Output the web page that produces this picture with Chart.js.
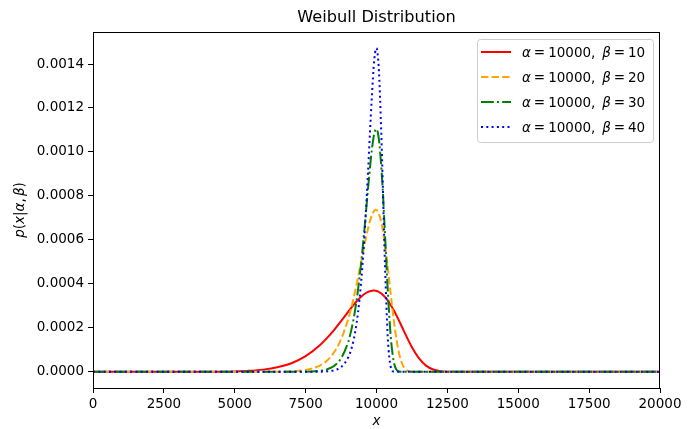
<!DOCTYPE html>
<html>
<head>
<meta charset="utf-8">
<script src="https://cdn.jsdelivr.net/npm/chart.js@4/dist/chart.umd.min.js"></script>
<style>
html,body{margin:0;padding:0;background:#ffffff;}
#wrap{width:697px;height:429px;position:relative;}
</style>
</head>
<body>
<div id="wrap"><canvas id="c" width="697" height="429"></canvas></div>
<script>
// ---- data ----
const chartTitle = 'Weibull Distribution';
const alphaValue = '10000';
const betaLabels = ['10', '20', '30', '40'];

const xValues = [0, 2000, 3000, 4000, 4500, 5000, 5500, 6000, 6500, 7000, 7500, 8000, 8250, 8500, 8750,
  9000, 9100, 9200, 9300, 9400, 9500, 9600, 9700, 9800, 9900, 9950, 10000, 10050, 10100, 10200, 10300,
  10400, 10500, 10600, 10700, 10800, 10900, 11000, 11250, 11500, 11750, 12000, 12250, 12500, 13000, 20000];

const beta10 = [0, 0, 0.00000002, 0.0000003, 0.0000008, 0.000002, 0.0000046, 0.00001, 0.0000204, 0.0000392,
  0.000071, 0.0001205, 0.000153, 0.00019, 0.000231, 0.000273, 0.00029, 0.000306, 0.000321, 0.000334,
  0.000346, 0.000356, 0.000364, 0.000368, 0.00037, 0.000369, 0.000368, 0.000366, 0.000362, 0.000353,
  0.00034, 0.000324, 0.000304, 0.000282, 0.000257, 0.000231, 0.000204, 0.000176, 0.000112, 0.0000616,
  0.0000283, 0.0000106, 0.0000031, 0.0000007, 0, 0];

const beta20 = [0, 0, 0, 0, 0, 0, 0, 0, 0, 0.0000023, 0.0000084, 0.0000285, 0.0000506, 0.0000878, 0.000148,
  0.000239, 0.000286, 0.00034, 0.000399, 0.000462, 0.000527, 0.000592, 0.000651, 0.000699, 0.000729,
  0.000736, 0.000736, 0.000729, 0.000713, 0.000659, 0.000576, 0.000471, 0.000356, 0.000245, 0.000151,
  0.0000816, 0.0000378, 0.0000146, 0.0000005, 0, 0, 0, 0, 0, 0, 0];

const beta30 = [0, 0, 0, 0, 0, 0, 0, 0, 0, 0, 0, 0.0000046, 0.0000113, 0.0000267, 0.0000613,
  0.000135, 0.000184, 0.000246, 0.000327, 0.000427, 0.000547, 0.000685, 0.000831, 0.000968, 0.00107,
  0.001097, 0.001104, 0.001086, 0.00104, 0.000871, 0.000624, 0.000365, 0.000164, 0.000052, 0.0000105,
  0.0000012, 0, 0, 0, 0, 0, 0, 0, 0, 0, 0];

const beta40 = [0, 0, 0, 0, 0, 0, 0, 0, 0, 0, 0, 0.0000007, 0.0000022, 0.0000071, 0.0000218,
  0.0000648, 0.0000987, 0.000149, 0.000223, 0.000329, 0.000476, 0.00067, 0.000907, 0.001165, 0.001385,
  0.001451, 0.001472, 0.001433, 0.00133, 0.000952, 0.000485, 0.000152, 0.0000235, 0.0000013, 0,
  0, 0, 0, 0, 0, 0, 0, 0, 0, 0, 0];

const xTicks = [0, 2500, 5000, 7500, 10000, 12500, 15000, 17500, 20000];
const yTicks = [0, 0.0002, 0.0004, 0.0006, 0.0008, 0.0010, 0.0012, 0.0014];

// ---- styling ----
const FONT = '"DejaVu Sans", sans-serif';
const seriesStyles = [
  {color: '#ff0000', dash: []},
  {color: '#ffa500', dash: [7.4, 3.2]},
  {color: '#008000', dash: [12.8, 3.2, 2, 3.2]},
  {color: '#0000ff', dash: [2, 3.3]}
];
const seriesValues = [beta10, beta20, beta30, beta40];

const datasets = seriesValues.map((vals, i) => ({
  label: 'α=' + alphaValue + ', β=' + betaLabels[i],
  data: xValues.map((x, j) => ({x: x, y: vals[j]})),
  borderColor: seriesStyles[i].color,
  borderDash: seriesStyles[i].dash,
  borderCapStyle: 'butt',
  borderWidth: 2,
  pointRadius: 0,
  fill: false,
  cubicInterpolationMode: 'monotone',
  order: seriesValues.length - i
}));

function drawParts(ctx, parts, x, y, size) {
  let cx = x;
  parts.forEach(p => {
    if (p.gap !== undefined) { cx += p.gap * size; return; }
    ctx.font = (p.it ? 'italic ' : '') + size + 'px ' + FONT;
    ctx.fillText(p.t, cx, y);
    cx += ctx.measureText(p.t).width;
  });
  return cx;
}

const decorPlugin = {
  id: 'decor',
  afterDraw(chart) {
    const ctx = chart.ctx;
    const a = chart.chartArea;
    ctx.save();
    // frame
    ctx.strokeStyle = '#000';
    ctx.lineWidth = 1;
    ctx.setLineDash([]);
    const L = Math.round(a.left) + 0.5, T = Math.round(a.top) + 0.5;
    const R = Math.round(a.right) - 0.5, B = Math.round(a.bottom) + 0.5;
    ctx.strokeRect(L, T, R - L, B - T);

    // title
    ctx.fillStyle = '#000';
    ctx.font = '16.2px ' + FONT;
    ctx.textAlign = 'center';
    ctx.textBaseline = 'middle';
    ctx.fillText(chartTitle, (a.left + a.right) / 2, 17.5);

    // x label
    ctx.font = 'italic 13.5px ' + FONT;
    ctx.fillText('x', (a.left + a.right) / 2, 421.5);

    // y label (rotated)
    ctx.save();
    ctx.translate(20, (a.top + a.bottom) / 2);
    ctx.rotate(-Math.PI / 2);
    ctx.textAlign = 'left';
    const yParts = [{t:'p', it:true},{t:'('},{t:'x', it:true},{t:'|'},{t:'α', it:true},{t:','},{gap:0.17},{t:'β', it:true},{t:')'}];
    let w = 0;
    yParts.forEach(p => {
      if (p.gap !== undefined) { w += p.gap * 13.5; return; }
      ctx.font = (p.it ? 'italic ' : '') + '13.5px ' + FONT;
      w += ctx.measureText(p.t).width;
    });
    drawParts(ctx, yParts, -w / 2, 0, 13.5);
    ctx.restore();

    // legend
    const bx = 477.5, by = 39.5, bw = 176, bh = 103;
    ctx.beginPath();
    ctx.roundRect(bx, by, bw, bh, 3);
    ctx.fillStyle = 'rgba(255,255,255,0.8)';
    ctx.fill();
    ctx.strokeStyle = '#cccccc';
    ctx.lineWidth = 1;
    ctx.stroke();
    ctx.textAlign = 'left';
    ctx.textBaseline = 'middle';
    betaLabels.forEach((b, i) => {
      const yy = 52 + i * 25;
      ctx.beginPath();
      ctx.setLineDash(seriesStyles[i].dash);
      ctx.lineCap = 'butt';
      ctx.strokeStyle = seriesStyles[i].color;
      ctx.lineWidth = 2;
      ctx.moveTo(481, yy);
      ctx.lineTo(511, yy);
      ctx.stroke();
      ctx.setLineDash([]);
      ctx.fillStyle = '#000';
      const parts = [{t:'α', it:true},{gap:0.22},{t:'='},{gap:0.22},{t:alphaValue + ','},{gap:0.5},
        {t:'β', it:true},{gap:0.22},{t:'='},{gap:0.22},{t:b}];
      drawParts(ctx, parts, 522, yy + 1, 13.5);
    });
    ctx.restore();
  }
};

new Chart(document.getElementById('c'), {
  type: 'line',
  data: {datasets: datasets},
  options: {
    responsive: false,
    animation: false,
    devicePixelRatio: 1,
    layout: {padding: {top: 32, right: 37, bottom: 0, left: 0}},
    plugins: {legend: {display: false}, tooltip: {enabled: false}, title: {display: false}},
    scales: {
      x: {
        type: 'linear',
        min: 0, max: 20000,
        afterFit: s => { s.height = 41; },
        afterBuildTicks: s => { s.ticks = xTicks.map(v => ({value: v})); },
        grid: {display: true, drawOnChartArea: false, drawTicks: true, tickLength: 5, tickColor: '#000', tickWidth: 1},
        border: {display: false},
        ticks: {color: '#000', padding: 3, maxRotation: 0, autoSkip: false,
          font: {family: FONT, size: 13.5}, callback: v => String(v)}
      },
      y: {
        type: 'linear',
        min: -0.0000736, max: 0.0015456,
        afterFit: s => { s.width = 93; },
        afterBuildTicks: s => { s.ticks = yTicks.map(v => ({value: v})); },
        grid: {display: true, drawOnChartArea: false, drawTicks: true, tickLength: 5, tickColor: '#000', tickWidth: 1},
        border: {display: false},
        ticks: {color: '#000', padding: 4, autoSkip: false,
          font: {family: FONT, size: 13.5}, callback: v => Number(v).toFixed(4)}
      }
    }
  },
  plugins: [decorPlugin]
});
</script>
</body>
</html>
